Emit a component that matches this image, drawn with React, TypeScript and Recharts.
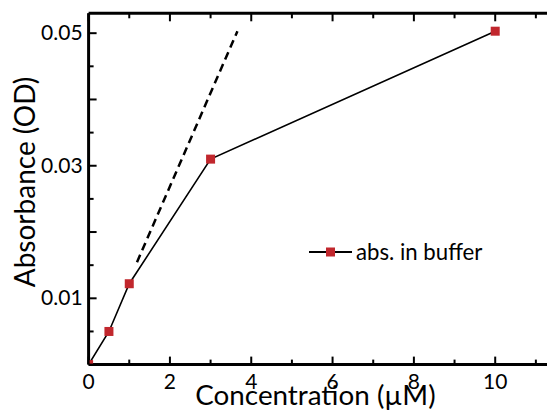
import React from 'react';
import { ComposedChart, Line, XAxis, YAxis, Legend, Label } from 'recharts';

// Measured absorbance vs concentration
const concentration = [0, 0.5, 1, 3, 10];
const absorbance = [0, 0.005, 0.0122, 0.031, 0.0503];

// Dashed linear-range guide
const guideX = [1.19, 3.66];
const guideY = [0.01545, 0.0503];

const xTickValues = [0, 1, 2, 3, 4, 5, 6, 7, 8, 9, 10, 11];
const xLabelled = [0, 2, 4, 6, 8, 10];
const yTickValues = [0, 0.005, 0.01, 0.015, 0.02, 0.025, 0.03, 0.035, 0.04, 0.045, 0.05];
const yLabelled = [0.01, 0.03, 0.05];
const yRightTicks = [0.01, 0.02, 0.03, 0.04, 0.05];

const seriesName = 'abs. in buffer';

const data = concentration.map((c, i) => ({ c, abs: absorbance[i] }));
const guide = guideX.map((c, i) => ({ c, g: guideY[i] }));

const FONT = 'Lato, "Open Sans", sans-serif';
const RED = '#c1272d';

const near = (a: number, list: number[]) => list.some((v) => Math.abs(v - a) < 1e-9);

const BottomTick = (props: any) => {
  const { x, y, payload } = props;
  const v = payload.value;
  const major = near(v, xLabelled);
  return (
    <g>
      <line x1={x} x2={x} y1={y} y2={y - (major ? 8 : 5)} stroke="#000" strokeWidth={2} />
      {major && (
        <text x={x} y={y + 24.4} textAnchor="middle" fontFamily={FONT} fontSize={21} fill="#000">
          {v}
        </text>
      )}
    </g>
  );
};

const TopTick = (props: any) => {
  const { x, y, payload } = props;
  const major = near(payload.value, xLabelled);
  return <line x1={x} x2={x} y1={y} y2={y + (major ? 8 : 5)} stroke="#000" strokeWidth={2} />;
};

const LeftTick = (props: any) => {
  const { x, y, payload } = props;
  const v = payload.value;
  const major = Math.abs(Math.round(v * 100) - v * 100) < 1e-6;
  const labelled = near(v, yLabelled);
  return (
    <g>
      <line x1={x} x2={x + (major ? 8 : 5)} y1={y} y2={y} stroke="#000" strokeWidth={2} />
      {labelled && (
        <text x={x - 6} y={y + 7} textAnchor="end" fontFamily={FONT} fontSize={21} fill="#000">
          {v.toFixed(2)}
        </text>
      )}
    </g>
  );
};

const RightTick = (props: any) => {
  const { x, y } = props;
  return <line x1={x} x2={x - 9} y1={y} y2={y} stroke="#000" strokeWidth={2} />;
};

const SquareDot = (props: any) => {
  const { cx, cy, index } = props;
  if (cx == null || cy == null) return null;
  return <rect key={`sq-${index}`} x={cx - 4.5} y={cy - 4.5} width={9} height={9} fill={RED} />;
};

const XTitle = (props: any) => {
  const { viewBox } = props;
  return (
    <text
      x={viewBox.x + viewBox.width / 2 - 10}
      y={viewBox.y + 40.4}
      textAnchor="middle"
      fontFamily={FONT}
      fontSize={27.8}
      fill="#000"
    >
      Concentration (µM)
    </text>
  );
};

const YTitle = (props: any) => {
  const { viewBox } = props;
  const cx = 27;
  const cy = viewBox.y + viewBox.height / 2 - 7;
  return (
    <text
      x={cx}
      y={cy}
      transform={`rotate(-90 ${cx} ${cy})`}
      textAnchor="middle"
      fontFamily={FONT}
      fontSize={28}
      fill="#000"
    >
      Absorbance (OD)
    </text>
  );
};

const LegendContent = () => (
  <div style={{ display: 'flex', alignItems: 'center', fontFamily: FONT, fontSize: 22.2, color: '#000' }}>
    <svg width={47} height={12} style={{ display: 'block' }}>
      <line x1={0} x2={43} y1={6} y2={6} stroke="#000" strokeWidth={2} />
      <rect x={17} y={1.5} width={9} height={9} fill={RED} />
    </svg>
    <span style={{ lineHeight: '22px' }}>{seriesName}</span>
  </div>
);

export default function App() {
  return (
    <div style={{ width: 547, height: 410, overflow: 'hidden' }}>
      <ComposedChart width={570} height={410} margin={{ top: 1, right: 0, bottom: 0, left: 0 }}>
        <XAxis
          xAxisId="bottom"
          dataKey="c"
          type="number"
          orientation="bottom"
          domain={[0, 11.65]}
          ticks={xTickValues}
          allowDataOverflow
          height={53.4}
          tickSize={0}
          tickMargin={0}
          tickLine={false}
          tick={<BottomTick />}
          axisLine={{ stroke: '#000', strokeWidth: 3 }}
          interval={0}
        >
          <Label content={<XTitle />} />
        </XAxis>
        <XAxis
          xAxisId="top"
          dataKey="c"
          type="number"
          orientation="top"
          domain={[0, 11.65]}
          ticks={xTickValues}
          allowDataOverflow
          height={4.3}
          tickSize={0}
          tickMargin={0}
          tickLine={false}
          tick={<TopTick />}
          axisLine={{ stroke: '#000', strokeWidth: 3 }}
          interval={0}
        />
        <YAxis
          yAxisId="left"
          type="number"
          orientation="left"
          domain={[0, 0.053]}
          ticks={yTickValues}
          allowDataOverflow
          width={80.6}
          tickSize={0}
          tickMargin={0}
          tickLine={false}
          tick={<LeftTick />}
          axisLine={{ stroke: '#000', strokeWidth: 3 }}
          interval={0}
        >
          <Label content={<YTitle />} />
        </YAxis>
        <YAxis
          yAxisId="right"
          type="number"
          orientation="right"
          domain={[0, 0.053]}
          ticks={yRightTicks}
          allowDataOverflow
          width={15.7}
          tickSize={0}
          tickMargin={0}
          tickLine={false}
          tick={<RightTick />}
          axisLine={{ stroke: '#000', strokeWidth: 3 }}
          interval={0}
        />
        <Line
          data={guide}
          xAxisId="bottom"
          yAxisId="left"
          dataKey="g"
          stroke="#000"
          strokeWidth={2.5}
          strokeDasharray="8 5"
          dot={false}
          legendType="none"
          isAnimationActive={false}
        />
        <Line
          data={data}
          xAxisId="bottom"
          yAxisId="left"
          dataKey="abs"
          name={seriesName}
          stroke="#000"
          strokeWidth={1.6}
          dot={<SquareDot />}
          isAnimationActive={false}
        />
        <Legend
          layout="horizontal"
          align="center"
          verticalAlign="middle"
          content={<LegendContent />}
          wrapperStyle={{ position: 'absolute', left: 301, top: 233, width: 'auto', bottom: 'auto' }}
        />
      </ComposedChart>
    </div>
  );
}
